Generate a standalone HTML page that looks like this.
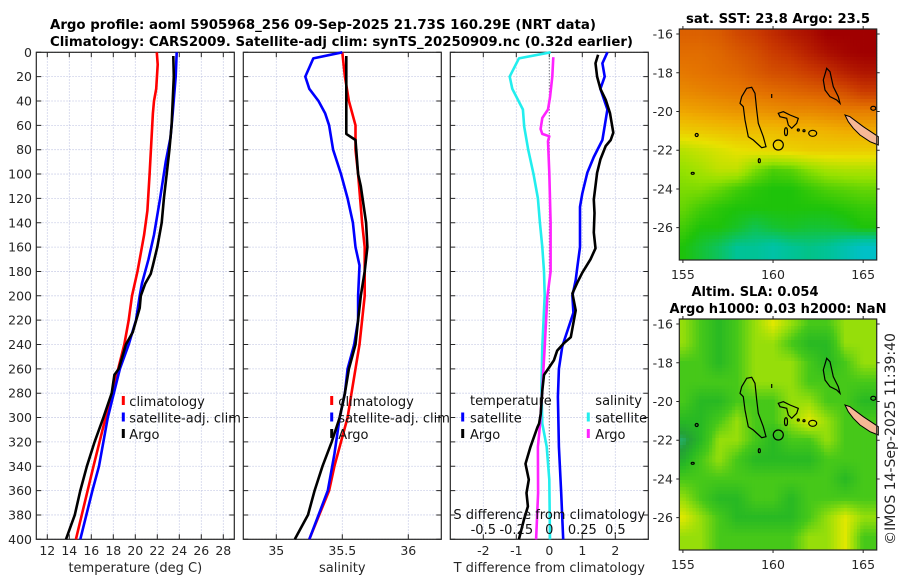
<!DOCTYPE html>
<html><head><meta charset="utf-8">
<style>
html,body{margin:0;padding:0;background:#fff;}
svg{display:block;font-family:"DejaVu Sans","Liberation Sans",sans-serif;}
</style></head>
<body>
<svg id="fig" width="900" height="580" viewBox="0 0 900 580" xmlns="http://www.w3.org/2000/svg">
<text x="50" y="29" font-size="13" font-weight="bold" textLength="546" lengthAdjust="spacingAndGlyphs">Argo profile: aoml 5905968_256 09-Sep-2025 21.73S 160.29E (NRT data)</text>
<text x="50" y="46" font-size="13" font-weight="bold" textLength="583" lengthAdjust="spacingAndGlyphs">Climatology: CARS2009. Satellite-adj clim: synTS_20250909.nc (0.32d earlier)</text>
<text x="778" y="23" font-size="13" font-weight="bold" text-anchor="middle" textLength="184" lengthAdjust="spacingAndGlyphs">sat. SST: 23.8 Argo: 23.5</text>
<text x="755" y="296" font-size="13" font-weight="bold" text-anchor="middle" textLength="127" lengthAdjust="spacingAndGlyphs">Altim. SLA: 0.054</text>
<text x="778" y="313" font-size="13" font-weight="bold" text-anchor="middle" textLength="217" lengthAdjust="spacingAndGlyphs">Argo h1000: 0.03 h2000: NaN</text>
<text x="0" y="0" font-size="14" fill="#262626" text-anchor="middle" transform="translate(895,439) rotate(-90)">©IMOS 14-Sep-2025 11:39:40</text>
</svg>
<script>
// ---------- profile data ----------
const tempClimDepth = [0,10,30,40,50,100,130,150,180,200,220,240,260,300,340,400];
const tempClimValue = [21.95,22.04,21.9,21.7,21.6,21.3,21.1,20.8,20.2,19.7,19.4,19.0,18.45,17.3,16.2,14.6];
const tempSatDepth = [0,20,50,70,90,120,150,170,190,200,220,240,260,300,340,360,400];
const tempSatValue = [23.76,23.67,23.4,23.2,22.76,22.25,21.7,21.2,20.6,20.4,20.06,19.4,18.6,17.5,16.7,16.1,15.0];
const tempArgoDepth = [3,20,40,60,70,80,100,120,140,160,175,182,190,200,210,230,240,260,265,280,300,320,340,360,380,390,400];
const tempArgoValue = [23.45,23.5,23.4,23.3,23.2,23.1,22.85,22.6,22.4,22.0,21.6,21.4,20.9,20.5,20.4,19.76,19.15,18.5,18.1,17.85,17.1,16.3,15.6,15.0,14.5,14.1,13.7];

const salClimDepth = [0,20,40,60,80,100,140,160,200,220,240,260,280,300,340,360,400];
const salClimValue = [35.50,35.52,35.55,35.60,35.60,35.62,35.65,35.67,35.67,35.65,35.63,35.60,35.57,35.54,35.44,35.40,35.25];
const salSatDepth = [0,5,20,30,40,50,60,80,100,120,140,160,175,200,220,240,260,280,300,330,360,400];
const salSatValue = [35.50,35.28,35.22,35.25,35.32,35.37,35.40,35.43,35.49,35.54,35.58,35.60,35.63,35.62,35.62,35.59,35.54,35.52,35.48,35.44,35.39,35.25];
const salArgoDepth = [3,60,67,72,100,110,140,160,180,200,220,240,260,280,300,320,340,360,380,400];
const salArgoValue = [35.53,35.53,35.53,35.60,35.62,35.64,35.68,35.69,35.67,35.64,35.62,35.60,35.55,35.52,35.48,35.42,35.35,35.29,35.24,35.14];

const dTSatDepth = [0,9,20,30,47,72,86,99,116,127,160,176,187,200,214,236,242,260,283,324,362,400];
const dTSatValue = [1.76,1.61,1.68,1.55,1.76,1.61,1.35,1.15,1.0,0.93,0.93,0.85,0.80,0.70,0.73,0.46,0.39,0.29,0.26,0.29,0.36,0.42];
const dTArgoDepth = [2,9,20,30,39,50,66,72,77,88,99,121,132,148,161,170,181,189,198,212,234,239,245,253,261,265,277,297,305,308,324,338,351,362,373,384,400];
const dTArgoValue = [1.48,1.40,1.45,1.55,1.71,1.84,1.94,1.86,1.71,1.55,1.45,1.35,1.37,1.35,1.40,1.25,1.0,0.85,0.70,0.80,0.65,0.44,0.24,0.14,-0.06,-0.16,-0.21,-0.26,-0.31,-0.36,-0.57,-0.72,-0.62,-0.69,-0.65,-0.77,-0.92];
const dSSatDepth = [0,5,20,30,47,61,80,100,120,140,160,180,200,242,277,305,324,351,400];
const dSSatValue = [0.01,-0.23,-0.30,-0.28,-0.20,-0.19,-0.16,-0.12,-0.086,-0.071,-0.053,-0.04,-0.035,-0.053,-0.06,-0.053,-0.02,0.0,0.005];
const dSArgoDepth = [4,20,37,47,54,63,67,69,73,99,140,180,201,242,277,305,324,362,400];
const dSArgoValue = [0.03,0.023,0.005,-0.01,-0.053,-0.066,-0.053,0.0,-0.01,0.0,0.01,0.01,-0.015,-0.035,-0.053,-0.07,-0.086,-0.085,-0.10];

const depthTicks = [0,20,40,60,80,100,120,140,160,180,200,220,240,260,280,300,320,340,360,380,400];
const tempTicks = [12,14,16,18,20,22,24,26,28];
const salTicks = [35,35.5,36];
const dTTicks = [-2,-1,0,1,2];
const dSTicks = [-0.5,-0.25,0,0.25,0.5];

// ---------- map data (grids, rows lat -16..-27, cols lon 155..165) ----------
const mapLons = [155,156,157,158,159,160,161,162,163,164,165];
const mapLats = [-16,-17,-18,-19,-20,-21,-22,-23,-24,-25,-26,-27];
const sstGrid = [
[1.7,1.7,1.6,1.3,1.1,0.8,0.5,0.3,0,0,0],
[1.9,1.9,1.8,1.6,1.4,1.1,0.9,0.6,0.3,0.1,0],
[2.1,2.0,1.9,1.8,1.6,1.4,1.3,1.1,0.9,0.6,0.4],
[2.4,2.3,2.2,2.1,2.0,1.9,1.8,1.7,1.6,1.4,1.1],
[2.9,2.8,2.7,2.6,2.6,2.5,2.4,2.4,2.3,2.2,2.2],
[3.6,3.5,3.4,3.3,3.3,3.3,3.2,3.2,3.1,3.0,3.0],
[4.6,4.4,4.2,4.0,3.9,3.8,3.7,3.6,3.6,3.6,3.6],
[5.0,4.8,4.5,4.5,5.2,5.6,5.5,5.1,4.8,4.7,4.7],
[5.2,5.2,5.4,5.7,5.9,6,6,5.8,5.6,5.5,5.4],
[5.4,5.7,5.9,6,6,6,6,6,6,5.9,5.8],
[5.7,6,6,6.2,6.5,6.3,6.2,6.3,6.3,6.2,6],
[6,6.3,6.6,7,7,7.2,7.0,6.9,7.0,7.3,7.6]];
const slaGrid = [
[4,3,2,3,4,5,4,3,3,4,4],
[4,3,2,3,4,4,3,2,2,4,4],
[3,3,2,3,4,4,4,3,2,3,4],
[3,3,3,3,4,4,4,3,3,3,3],
[3,2,2,3,3,3,4,4,3,3,2],
[2,2,3,4,3,3,4,5,4,3,3],
[0.5,2,4,4,3,2,3,3,4,3,3],
[1.5,3,4,3,2,2,2,2,3,3,3],
[3,3,3,3,3,3,3,3,3,2,3],
[4,3,2,2,3,3,2,3,3,3,3],
[5,4,3,2,2,2,2,3,4,5,4],
[4,4,3,3,3,3,3,4,4,5,3]];
const mapLonTicks = [155,160,165];
const mapLatTicks = [-16,-18,-20,-22,-24,-26];

const NS = 'http://www.w3.org/2000/svg';
const svg = document.getElementById('fig');
function mk(tag, attrs, parent){
  const e = document.createElementNS(NS, tag);
  for (const k in attrs) e.setAttribute(k, attrs[k]);
  (parent||svg).appendChild(e);
  return e;
}
function scale(d0,d1,r0,r1){ return v => r0 + (v-d0)/(d1-d0)*(r1-r0); }
const Y0 = 52.3, Y1 = 539.3;
const yD = scale(0,400,Y0,Y1);
const GRID = '#c4c8e4';

function panel(name, x0, x1, dom, ticks, showY, fmt){
  const xS = scale(dom[0],dom[1],x0,x1);
  const g = mk('g',{});
  
  
  ticks.forEach(t => {
    const l = mk('line',{x1:xS(t),x2:xS(t),y1:Y0,y2:Y1,stroke:GRID,'stroke-width':0.8,'stroke-dasharray':'1.5,1.5'},g);
    
    
    const tk = mk('path',{d:`M${xS(t)},${Y1}v-5M${xS(t)},${Y0}v5`,stroke:'#262626','stroke-width':1},g);
    
    
    if (fmt){
      const tx = mk('text',{x:xS(t),y:555,'font-size':12.5,fill:'#262626','text-anchor':'middle'},g);
      
      
      tx.textContent = fmt(t);
    }
  });
  depthTicks.forEach(d => {
    const l = mk('line',{x1:x0,x2:x1,y1:yD(d),y2:yD(d),stroke:GRID,'stroke-width':0.8,'stroke-dasharray':'1.5,1.5'},g);
    
    
    const tk = mk('path',{d:`M${x0},${yD(d)}h5M${x1},${yD(d)}h-5`,stroke:'#262626','stroke-width':1},g);
    
    
    if (showY){
      const tx = mk('text',{x:32,y:yD(d)+4.5,'font-size':12.5,fill:'#262626','text-anchor':'end'},g);
      
      
      tx.textContent = d;
    }
  });
  const fr = mk('rect',{x:x0,y:Y0,width:x1-x0,height:Y1-Y0,fill:'none',stroke:'#262626','stroke-width':1.2},g);
  
  
  return {g, xS};
}
function series(p, xS, depths, vals, color, name){
  const pts = depths.map((d,i)=> xS(vals[i]).toFixed(1)+','+yD(d).toFixed(1)).join(' ');
  const pl = mk('polyline',{points:pts,fill:'none',stroke:color,'stroke-width':2.6,'stroke-linejoin':'round'},p.g);
  
  
}
function legendEntry(g, mx, tx, y, color, label, name){
  const m = mk('line',{x1:mx,x2:mx,y1:y-9,y2:y,stroke:color,'stroke-width':3},g);
  
  
  const t = mk('text',{x:tx,y:y+1,'font-size':13,fill:'#111'},g);
  
  
  t.textContent = label;
}
function axisTitle(x, text, name){
  const t = mk('text',{x:x,y:572,'font-size':13,fill:'#262626','text-anchor':'middle'});
  
  
  t.textContent = text;
}

// Panel 1 temperature
const p1 = panel('temperature-panel',36.3,234.3,[11,29],tempTicks,true,t=>String(t));
series(p1,p1.xS,tempClimDepth,tempClimValue,'#ff0000','temp-climatology-line');
series(p1,p1.xS,tempSatDepth,tempSatValue,'#0000ff','temp-satellite-line');
series(p1,p1.xS,tempArgoDepth,tempArgoValue,'#000000','temp-argo-line');
legendEntry(p1.g,123.3,129.3,405,'#ff0000','climatology','legend-climatology');
legendEntry(p1.g,123.3,129.3,421.5,'#0000ff','satellite-adj. clim','legend-satellite-adj');
legendEntry(p1.g,123.3,129.3,438,'#000000','Argo','legend-argo');
axisTitle(135.3,'temperature (deg C)','temperature-axis-title');

// Panel 2 salinity
const p2 = panel('salinity-panel',243.3,441.3,[34.75,36.25],salTicks,false,t=>String(t));
series(p2,p2.xS,salClimDepth,salClimValue,'#ff0000','sal-climatology-line');
series(p2,p2.xS,salSatDepth,salSatValue,'#0000ff','sal-satellite-line');
series(p2,p2.xS,salArgoDepth,salArgoValue,'#000000','sal-argo-line');
legendEntry(p2.g,331.7,338.3,405,'#ff0000','climatology','legend-climatology-2');
legendEntry(p2.g,331.7,338.3,421.5,'#0000ff','satellite-adj. clim','legend-satellite-adj-2');
legendEntry(p2.g,331.7,338.3,438,'#000000','Argo','legend-argo-2');
axisTitle(342.3,'salinity','salinity-axis-title');

// Panel 3 differences
const p3 = panel('difference-panel',450.3,648.3,[-3,3],dTTicks,false,t=>String(t));
const xSd = scale(-0.75,0.75,450.3,648.3);
const zl = mk('line',{x1:p3.xS(0),x2:p3.xS(0),y1:Y0,y2:Y1,stroke:'#555','stroke-width':1,'stroke-dasharray':'1,2'},p3.g);


series(p3,xSd,dSSatDepth,dSSatValue,'#22eeee','sdiff-satellite-line');
series(p3,xSd,dSArgoDepth,dSArgoValue,'#ff22ff','sdiff-argo-line');
series(p3,p3.xS,dTSatDepth,dTSatValue,'#0000ff','tdiff-satellite-line');
series(p3,p3.xS,dTArgoDepth,dTArgoValue,'#000000','tdiff-argo-line');
const lt = mk('text',{x:470,y:405,'font-size':13,fill:'#111'},p3.g);


lt.textContent = 'temperature';
const ls = mk('text',{x:595.3,y:405,'font-size':13,fill:'#111'},p3.g);


ls.textContent = 'salinity';
legendEntry(p3.g,462.7,470,421.5,'#0000ff','satellite','legend-t-satellite');
legendEntry(p3.g,462.7,470,438,'#000000','Argo','legend-t-argo');
legendEntry(p3.g,588.3,595.3,421.5,'#22eeee','satellite','legend-s-satellite');
legendEntry(p3.g,588.3,595.3,438,'#ff22ff','Argo','legend-s-argo');
const st = mk('text',{x:549.3,y:519,'font-size':13,fill:'#111','text-anchor':'middle'},p3.g);


st.textContent = 'S difference from climatology';
dSTicks.forEach(t => {
  const tx = mk('text',{x:xSd(t),y:534,'font-size':13,fill:'#111','text-anchor':'middle'},p3.g);
  
  
  tx.textContent = String(t);
});
axisTitle(549.3,'T difference from climatology','t-difference-axis-title');

// ---------- maps ----------
const sstStops = [[160,0,0],[200,55,0],[228,115,0],[240,172,0],[232,225,0],[150,225,0],[30,195,10],[0,195,150],[0,190,230]];
const slaStops = [[40,185,150],[35,160,55],[40,185,35],[70,200,25],[150,222,10],[225,232,0],[240,200,20]];
function cmap(stops, v){
  v = Math.max(0, Math.min(stops.length-1, v));
  const i = Math.min(stops.length-2, Math.floor(v)), f = v - i;
  const a = stops[i], b = stops[i+1];
  return `rgb(${Math.round(a[0]+(b[0]-a[0])*f)},${Math.round(a[1]+(b[1]-a[1])*f)},${Math.round(a[2]+(b[2]-a[2])*f)})`;
}
function gridVal(grid, lon, lat){
  let c = (lon - mapLons[0]); let r = (mapLats[0] - lat);
  c = Math.max(0, Math.min(mapLons.length-1.0001, c)); r = Math.max(0, Math.min(mapLats.length-1.0001, r));
  const c0 = Math.floor(c), r0 = Math.floor(r), fc = c-c0, fr = r-r0;
  const v00 = grid[r0][c0], v01 = grid[r0][c0+1], v10 = grid[r0+1][c0], v11 = grid[r0+1][c0+1];
  return (v00*(1-fc)+v01*fc)*(1-fr) + (v10*(1-fc)+v11*fc)*fr;
}
const MX0 = 679.3, MX1 = 876.7, MW = MX1-MX0, MH = 231;
const LON0 = 154.8, LON1 = 165.75, LAT0 = -15.74, LAT1 = -27.67;
function drawMap(name, top, grid, stops){
  const g = mk('g',{});
  
  
  const lonS = scale(LON0,LON1,MX0,MX1), latS = scale(LAT0,LAT1,top,top+MH);
  const nx = 60, ny = 66, cw = MW/nx, ch = MH/ny;
  for (let j=0;j<ny;j++) for (let i=0;i<nx;i++){
    const lon = LON0 + (i+0.5)/nx*(LON1-LON0), lat = LAT0 + (j+0.5)/ny*(LAT1-LAT0);
    const c = mk('rect',{x:(MX0+i*cw).toFixed(2),y:(top+j*ch).toFixed(2),width:(cw+0.4).toFixed(2),height:(ch+0.4).toFixed(2),fill:cmap(stops,gridVal(grid,lon,lat))},g);
    
    
  }
  const tr = `translate(${MX0},${top})`;
  const cg = mk('g',{transform:tr,fill:'none',stroke:'#000','stroke-width':1.2},g);
  
  
  const shapes = [
    'M62.4,67.7 L67.4,59.3 72.4,58.3 75.7,64.3 77.4,81 79,94.3 84,107.7 86.7,117.7 82.4,118.7 74,111 69,107.7 65.7,91 64,77.7 60.7,74.3Z',
    'M99,84.3 L104,82.7 110.7,86 119,89.3 117.4,94.3 112.4,99.3 109,96 107.4,89.3 100.7,87.7Z',
    'M144,51 L147.4,39.3 150.7,42.7 154,57.7 159,67.7 160.7,74.3 157.4,71 150.7,67.7 145.7,61Z',
    'M92.4,65 v4'
  ];
  shapes.forEach(s => {
    const p = mk('path',{d:s},cg);
    
    
  });
  [[99,116,5,5],[133.4,104.3,4,3],[106.7,102.7,1.5,4],[194,79.3,2.5,2],[17.4,106,1.5,1.5],[13.4,144.3,1.5,1],[80,131.7,1,2],[119,101,1,1],[124.7,101.7,1,1]].forEach(e => {
    const el = mk('ellipse',{cx:e[0],cy:e[1],rx:e[2],ry:e[3]},cg);
    
    
  });
  const nc = mk('path',{d:'M165.7,86 L170.7,87.7 184,97.7 194,104.3 199,107.7 199,116 190.7,112.7 180.7,106 174,99.3 169,92.7Z',fill:'#f6b896',stroke:'#000','stroke-width':1},cg);
  
  
  const fr = mk('rect',{x:MX0,y:top,width:MW,height:MH,fill:'none',stroke:'#262626','stroke-width':1.2},g);
  
  
  mapLonTicks.forEach(t => {
    const tk = mk('path',{d:`M${lonS(t)},${top+MH}v3M${lonS(t)},${top}v-3`,stroke:'#262626'},g);
    
    
    const tx = mk('text',{x:lonS(t),y:top+MH+19,'font-size':12.5,fill:'#262626','text-anchor':'middle'},g);
    
    
    tx.textContent = t;
  });
  mapLatTicks.forEach(t => {
    const tk = mk('path',{d:`M${MX0},${latS(t)}h-3M${MX1},${latS(t)}h3`,stroke:'#262626'},g);
    
    
    const tx = mk('text',{x:673,y:latS(t)+4.5,'font-size':12.5,fill:'#262626','text-anchor':'end'},g);
    
    
    tx.textContent = t;
  });
}
drawMap('sst-map', 29, sstGrid, sstStops);
drawMap('sla-map', 319, slaGrid, slaStops);
</script>
</body></html>
